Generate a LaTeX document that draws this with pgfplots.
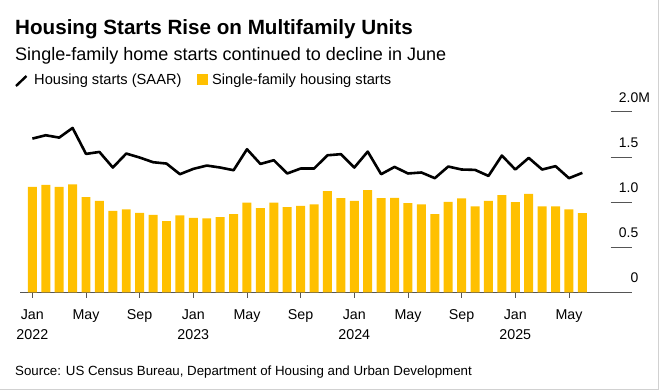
\documentclass[border=0pt]{standalone}
\usepackage{pgfplots}
\pgfplotsset{compat=1.18}
\usepackage{fontspec}
\setmainfont{Liberation Sans}
\definecolor{baryellow}{HTML}{FFC000}
\definecolor{axisgray}{HTML}{555555}
\pgfplotstableread{
idx total single
0 1.705 1.170
1 1.742 1.192
2 1.716 1.170
3 1.823 1.196
4 1.535 1.055
5 1.557 1.015
6 1.384 0.904
7 1.539 0.919
8 1.495 0.882
9 1.443 0.860
10 1.428 0.790
11 1.310 0.852
12 1.369 0.826
13 1.406 0.819
14 1.384 0.834
15 1.354 0.867
16 1.587 0.996
17 1.424 0.934
18 1.465 0.996
19 1.318 0.945
20 1.373 0.959
21 1.373 0.974
22 1.520 1.122
23 1.532 1.044
24 1.384 1.015
25 1.561 1.133
26 1.310 1.044
27 1.391 1.048
28 1.318 0.989
29 1.329 0.974
30 1.266 0.867
31 1.395 1.004
32 1.362 1.041
33 1.358 0.952
34 1.291 1.015
35 1.517 1.078
36 1.362 1.000
37 1.491 1.092
38 1.362 0.952
39 1.399 0.952
40 1.266 0.919
41 1.325 0.878
}\datatable
\begin{document}
\begin{tikzpicture}[x=1bp,y=1bp]
\path[use as bounding box] (0,0) rectangle (660,390);
\draw[black!18, line width=1.2bp] (0,0.8) -- (658.6,0.8) -- (658.6,390);
% titles
\node[anchor=base west, inner sep=0, font=\fontsize{20.7}{24}\selectfont\bfseries] at (15,390-34.3) {Housing Starts Rise on Multifamily Units};
\node[anchor=base west, inner sep=0, font=\fontsize{18.1}{21}\selectfont] at (15,390-60) {Single-family home starts continued to decline in June};
% legend
\draw[black, line width=2.4bp] (16,390-86) -- (26.5,390-76);
\node[anchor=base west, inner sep=0, font=\fontsize{14.7}{17}\selectfont] at (34,390-84.5) {Housing starts (SAAR)};
\fill[baryellow] (196.5,390-84.5) rectangle (207.5,390-74);
\node[anchor=base west, inner sep=0, font=\fontsize{14.7}{17}\selectfont] at (212,390-84.5) {Single-family housing starts};
% source
\node[anchor=base west, inner sep=0, font=\fontsize{13.35}{16}\selectfont] at (15,390-375) {Source: US Census Bureau, Department of Housing and Urban Development};
\begin{axis}[
  at={(20bp,97.7bp)}, anchor=south west, scale only axis,
  width=612bp, height=180.3bp,
  xmin=-0.92, xmax=44.7, ymin=0, ymax=2,
  clip=false,
  axis x line=bottom, axis y line=right,
  axis line style={-},
  x axis line style={axisgray, line width=1.1bp},
  y axis line style={draw=none},
  xtick={0,4,...,40},
  xticklabels={Jan\\2022,May,Sep,Jan\\2023,May,Sep,Jan\\2024,May,Sep,Jan\\2025,May},
  tick align=outside,
  major tick length=5.5bp,
  x tick style={axisgray, line width=0.8bp},
  xticklabel style={align=center, font=\fontsize{14.3}{20}\selectfont, anchor=north, inner sep=0pt, yshift=-12bp},
  ytick={0,0.5,1,1.5,2},
  yticklabels={0,0.5,1.0,1.5,2.0\rlap{M}},
  y tick style={draw=none},
  yticklabel style={anchor=south east, inner sep=0pt, font=\fontsize{14}{16}\selectfont, xshift=1bp, yshift=9bp},
  /pgf/number format/assume math mode=true,
]
\addplot[ybar, bar width=0.67, fill=baryellow, draw=none] table[x=idx, y=single] {\datatable};
\addplot[black, line width=2.6bp, line join=round] table[x=idx, y=total] {\datatable};
\pgfplotsinvokeforeach{0.5,1,1.5,2}{
  \draw[axisgray, line width=1bp] (axis cs:43.1,#1) -- (axis cs:44.7,#1);
}
\end{axis}
\end{tikzpicture}
\end{document}
